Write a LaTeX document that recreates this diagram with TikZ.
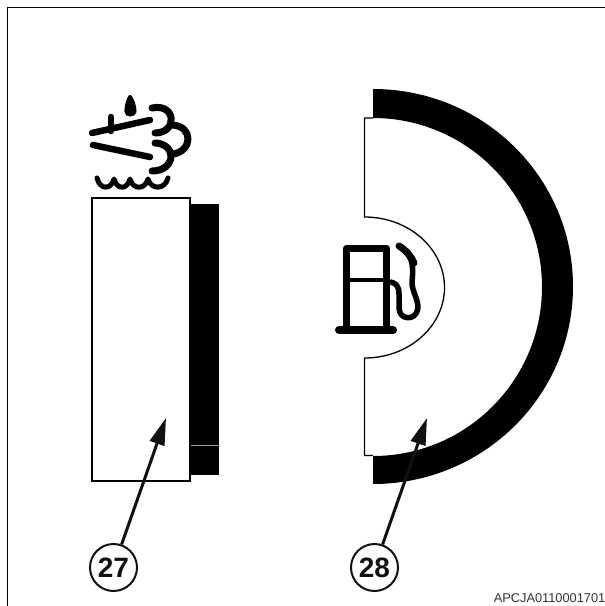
\documentclass[tikz,border=0pt]{standalone}
\usepackage{fontspec}
\setmainfont{Liberation Sans}
\usepackage{xcolor}
\usetikzlibrary{arrows.meta}
\definecolor{tagInk}{HTML}{111111}
\definecolor{codeInk}{HTML}{333333}
\definecolor{seamGrey}{HTML}{9A9A9A}
\begin{document}
\begin{tikzpicture}[x=1pt,y=-1pt,
  outline/.style={draw=black, line width=1.5pt, fill=white},
  glyph/.style={draw=black, line width=#1, line cap=round, line join=round},
  callout/.style={circle, draw=tagInk, fill=white, line width=2pt, minimum size=47pt, inner sep=0pt, font=\bfseries\fontsize{28}{28}\selectfont, text=tagInk},
  leader/.style={-{Triangle[length=27pt,width=15pt]}, tagInk, line width=3pt}]
\useasboundingbox (0,0) rectangle (605,606);
\draw[black, line width=1.5pt] (7.5,606) -- (7.5,7.5) -- (605,7.5);
% left gauge
\fill[black] (190,204) rectangle (219,475);
\draw[seamGrey, line width=0.8pt] (190,445) -- (219,445);
\node[outline, minimum width=98pt, minimum height=283pt, inner sep=0pt] (gauge) at (141,339.5) {};
% right gauge
\fill[black] (373,89) arc[start angle=90, end angle=-90, x radius=200pt, y radius=197.5pt] -- (373,456) arc[start angle=-90, end angle=90, x radius=169pt, y radius=169pt] -- cycle;
\draw[black, line width=1.3pt] (373,118) -- (364.5,118) -- (364.5,217) arc[start angle=90, end angle=-90, x radius=80pt, y radius=70.5pt] -- (364.5,455.5) -- (373,455.5);
% washer icon
\fill[black] (130,95) .. controls (133,95) and (137,107) .. (136.5,112) .. controls (136,118) and (124.5,118) .. (124.5,112) .. controls (124,107) and (127,95) .. (130,95) -- cycle;
\draw[glyph=6.5pt] (92,133) -- (150,120);
\draw[glyph=6.5pt] (111,117) -- (111,131);
\draw[glyph=6.5pt] (93,145) -- (150,157);
\draw[glyph=7pt] (152,108) .. controls (166,105) and (172,114) .. (171,120) .. controls (171,128) and (164,133) .. (155,133);
\draw[glyph=7pt] (173,125) .. controls (183,126) and (188,132) .. (188,139) .. controls (188,146) and (182,153) .. (173,154);
\draw[glyph=7pt] (155,143) .. controls (164,143) and (171,149) .. (171,156) .. controls (171,164) and (164,171) .. (152,171);
\draw[glyph=5pt] (97,178) .. controls (100,190) and (111,190) .. (114,179) .. controls (117,190) and (127,190) .. (130,179) .. controls (133,190) and (145,190) .. (148,179) .. controls (151,190) and (165,190) .. (168,178);
% pump icon
\draw[glyph=7pt] (346.5,328) -- (346.5,248) -- (386.5,248) -- (386.5,328);
\draw[glyph=3.5pt] (347,280) -- (387,280);
\draw[glyph=8pt] (339,330) -- (393,330);
\draw[glyph=5.5pt] (388,282) .. controls (396,282) and (399,286) .. (399,294) -- (399,308) .. controls (399,320) and (416,322) .. (418,308) .. controls (418,298) and (412,292) .. (412,282) .. controls (414,262) and (412,256) .. (399,246);
\draw[glyph=7pt] (399,246) .. controls (406,250) and (411,256) .. (414,263);
% callouts
\coordinate (tipA) at (166,418);
\coordinate (tipB) at (427,418);
\node[callout] (tagA) at (113.5,567.5) {27};
\node[callout] (tagB) at (374.5,567.5) {28};
\draw[leader] (tagA) -- (tipA);
\draw[leader] (tagB) -- (tipB);
\node[anchor=east, inner sep=0pt, text=codeInk, font=\fontsize{12.8}{14}\selectfont] (code) at (605.5,598.5) {APCJA0110001701};
\end{tikzpicture}
\end{document}
